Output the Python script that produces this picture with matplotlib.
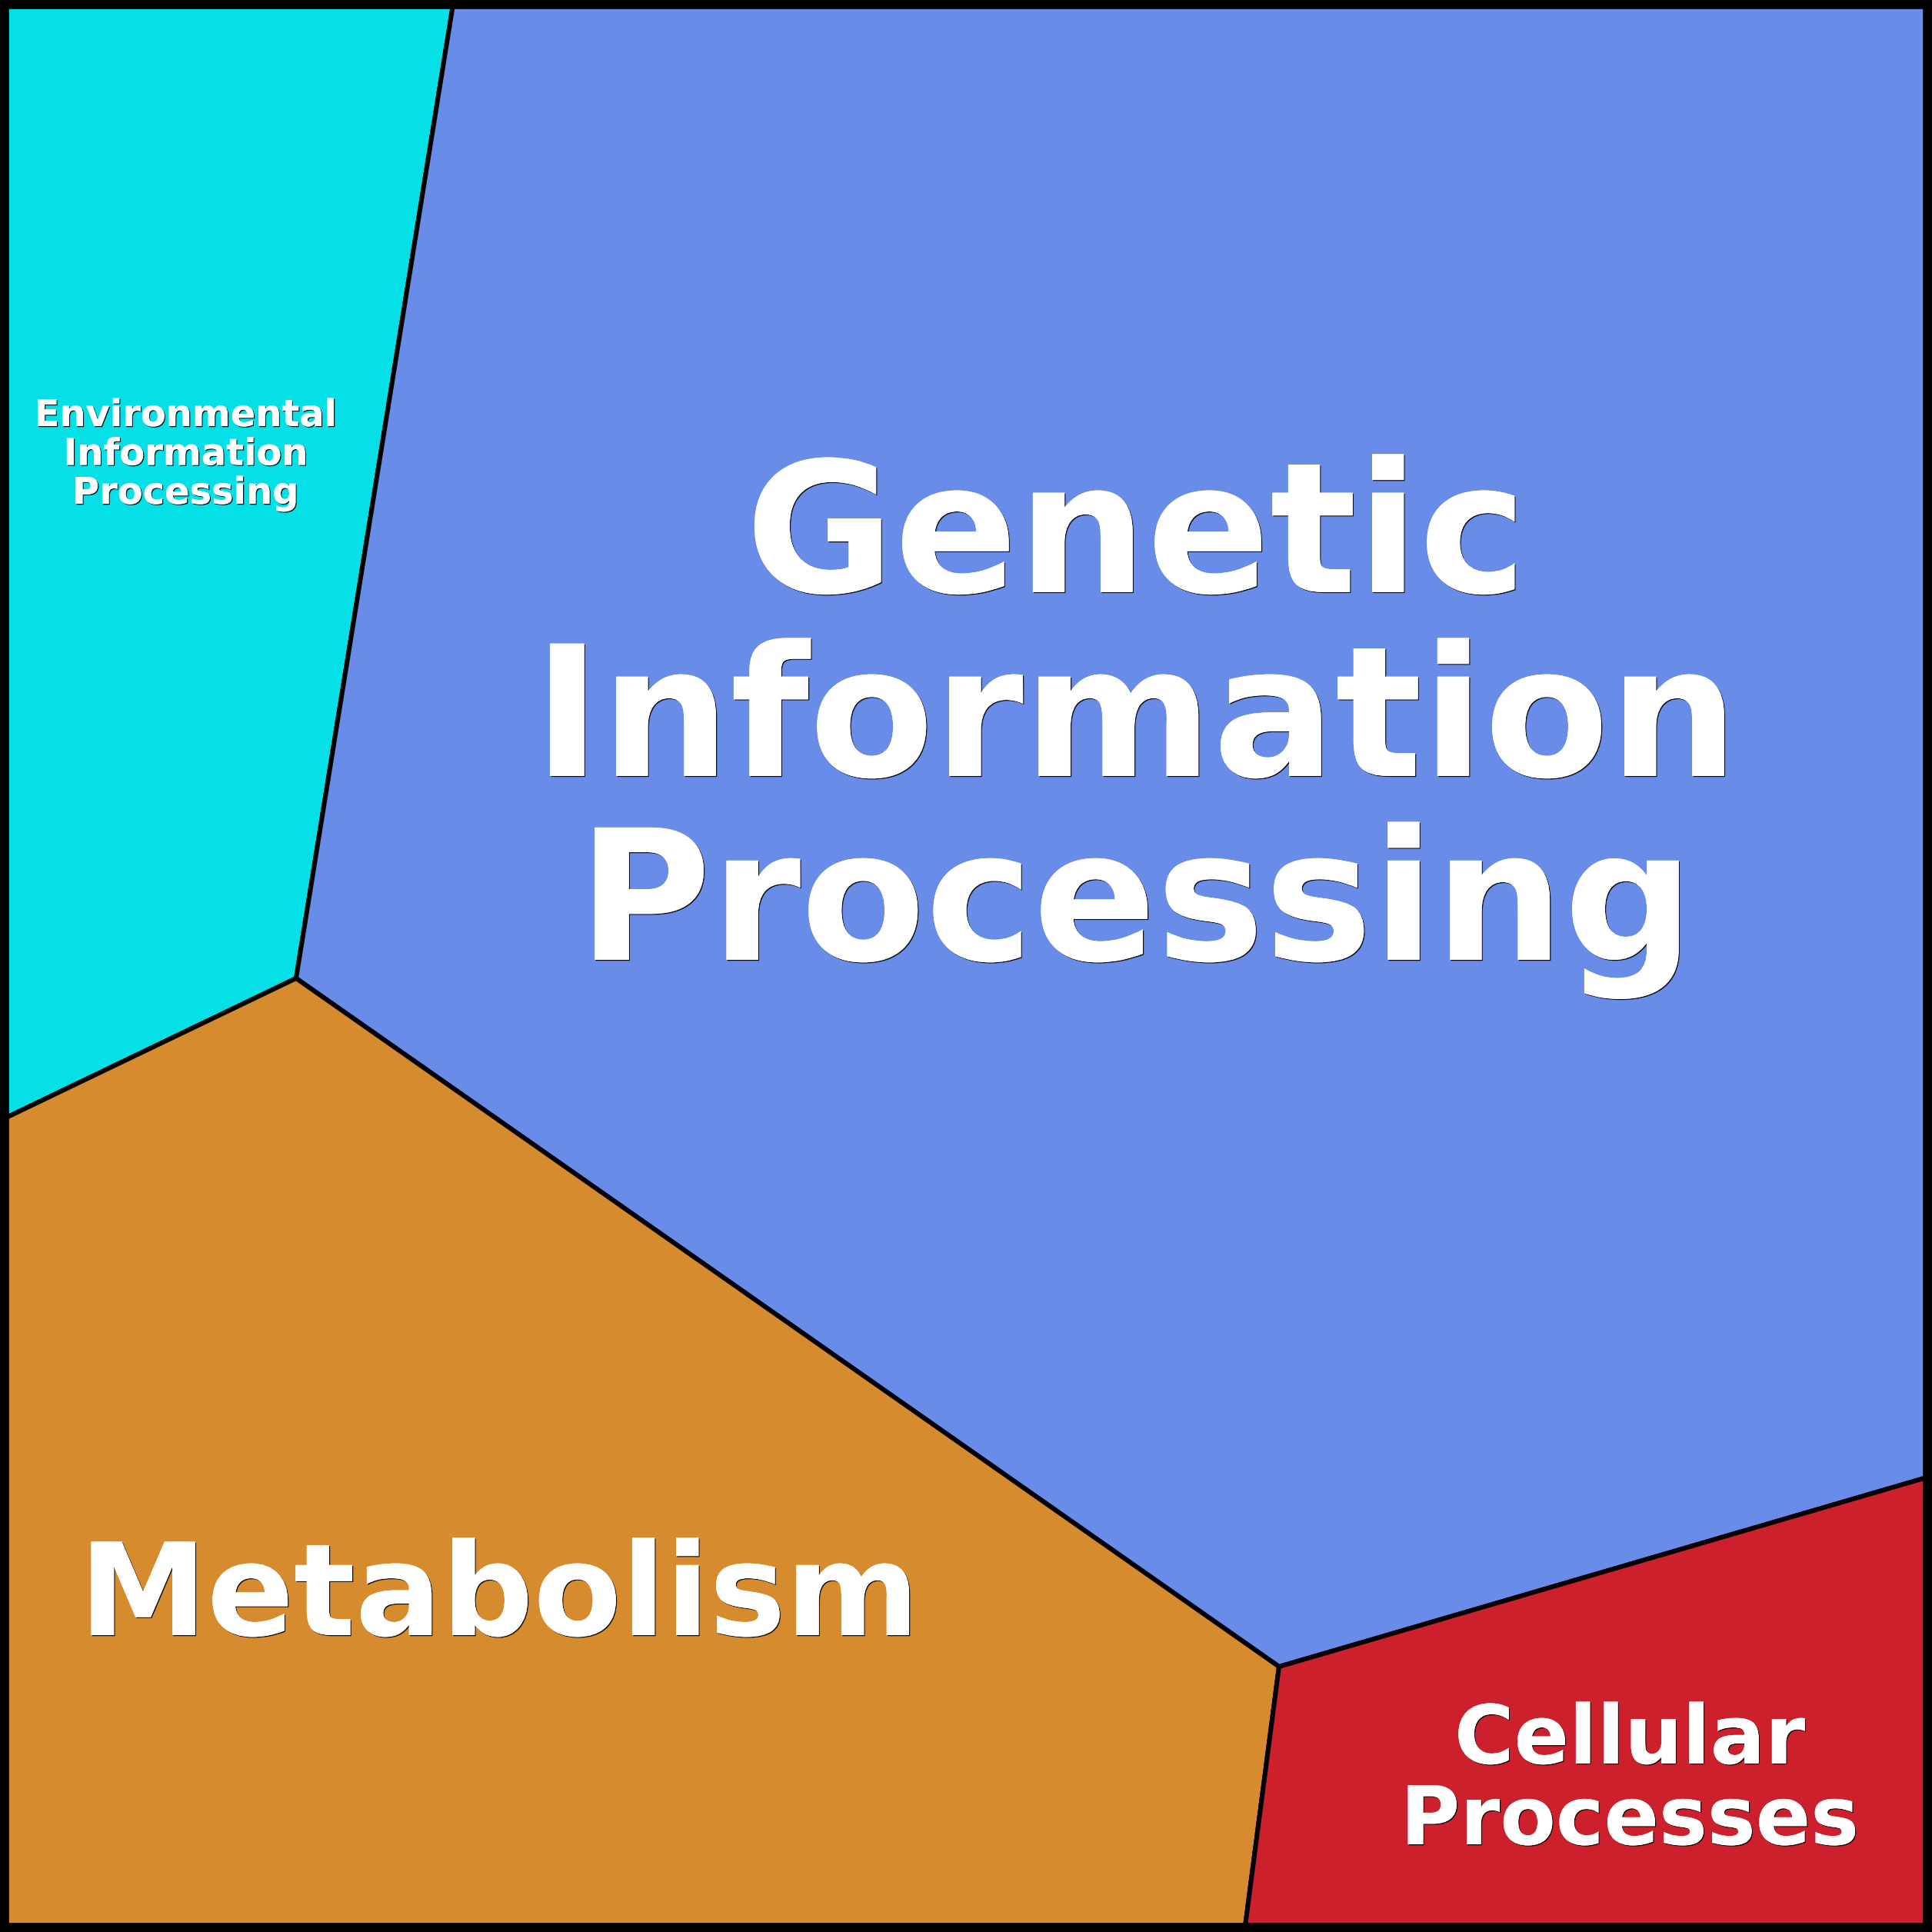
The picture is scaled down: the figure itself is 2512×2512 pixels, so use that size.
import matplotlib
matplotlib.use("Agg")
import matplotlib.pyplot as plt
from matplotlib.patches import Polygon, Rectangle
import matplotlib.patheffects as pe

# ---------- data ----------
SIZE = 2512

categories = ["Environmental\nInformation\nProcessing",
              "Genetic\nInformation\nProcessing",
              "Metabolism",
              "Cellular\nProcesses"]
colors = ["#05dfe6", "#688ce8", "#d58b2e", "#cc202c"]

# voronoi junction points (canvas px, y down)
junctions = {
    "tl": (0, 0), "tr": (SIZE, 0), "bl": (0, SIZE), "br": (SIZE, SIZE),
    "a": (590, 0),          # env / genetic on top edge
    "b": (385, 1272),       # env / genetic / metabolism
    "c": (0, 1457),         # env / metabolism on left edge
    "d": (1663, 2167),      # genetic / metabolism / cellular
    "e": (SIZE, 1919),      # genetic / cellular on right edge
    "f": (1618, SIZE),      # metabolism / cellular on bottom edge
}
cells = [
    ["tl", "a", "b", "c"],
    ["a", "tr", "e", "d", "b"],
    ["c", "b", "d", "f", "bl"],
    ["d", "e", "br", "f"],
]

# ---------- labels ----------
# y = baseline of the last line
label_pos = [(241, 655), (1477, 1248), (649, 2126), (2119, 2398)]
label_size = [34.5, 170, 120, 76]
label_spacing = [1.095, 1.062, 1.2, 1.04]

fig = plt.figure(figsize=(SIZE / 100, SIZE / 100), dpi=100)
ax = fig.add_axes([0, 0, 1, 1])
ax.set_xlim(0, SIZE)
ax.set_ylim(SIZE, 0)
ax.axis("off")

for cell, col in zip(cells, colors):
    pts = [junctions[k] for k in cell]
    ax.add_patch(Polygon(pts, closed=True, facecolor=col,
                         edgecolor="black", linewidth=4.3, joinstyle="miter"))

# outer frame
ax.add_patch(Rectangle((0, 0), SIZE, SIZE, fill=False,
                       edgecolor="black", linewidth=17, clip_on=False))

shadow = [pe.withSimplePatchShadow(offset=(0.9, -0.9),
                                   shadow_rgbFace="black", alpha=0.9),
          pe.Normal()]

for name, (x, y), fs, ls in zip(categories, label_pos, label_size, label_spacing):
    ax.text(x, y, name, ha="center", va="baseline", multialignment="center",
            fontsize=fs, fontweight="bold", color="white",
            family="DejaVu Sans", linespacing=ls, path_effects=shadow)

fig.savefig("out.png", dpi=100)
plt.close(fig)
